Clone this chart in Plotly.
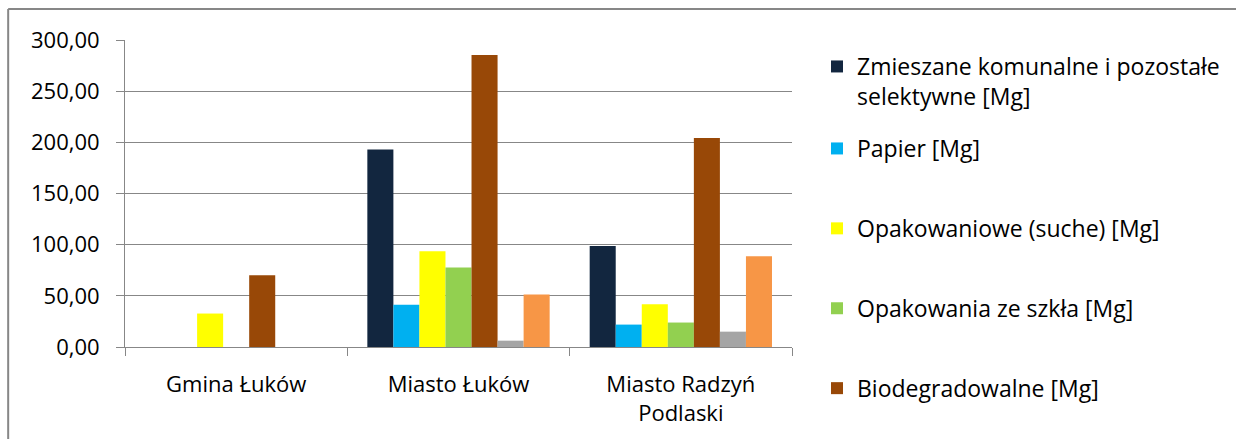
import plotly.graph_objects as go

categories = ["Gmina Łuków", "Miasto Łuków", "Miasto Radzyń<br>Podlaski"]

series_names = [
    "Zmieszane komunalne i pozostałe<br>selektywne [Mg]",
    "Papier [Mg]",
    "Opakowaniowe (suche) [Mg]",
    "Opakowania ze szkła [Mg]",
    "Biodegradowalne [Mg]",
    "Seria 6",
    "Seria 7",
]
zmieszane = [0, 193.1, 98.7]
papier = [0, 41.2, 21.9]
opakowaniowe = [32.7, 93.5, 41.8]
szklo = [0, 77.8, 23.9]
biodegradowalne = [70.0, 285.3, 204.2]
seria6 = [0, 6.2, 15.0]
seria7 = [0, 51.3, 88.6]

series_values = [zmieszane, papier, opakowaniowe, szklo, biodegradowalne, seria6, seria7]
colors = ["#12263F", "#00B0F0", "#FFFF00", "#92D050", "#984807", "#A5A5A5", "#F79646"]

y_ticks = [0, 50, 100, 150, 200, 250, 300]

FONT = "Open Sans"
FS = 22
FS_LEG = 23
GRID = "#878787"

fig = go.Figure()
for i, (name, vals, col) in enumerate(zip(series_names, series_values, colors)):
    fig.add_trace(go.Bar(
        x=categories, y=vals, name=name,
        marker=dict(color=col, line=dict(width=0)),
        legend="legend" if i == 0 else "legend2",
        legendgroup=f"g{i}",
        showlegend=i < 5,
    ))

L, R_EDGE, T, B_EDGE = 125, 793, 40, 347
W, H = 1236, 439
pw = R_EDGE - L
ph = B_EDGE - T

def px_x(p):
    return (p - L) / pw

def px_y(p):
    return (B_EDGE - p) / ph

fig.update_layout(
    width=W, height=H,
    margin=dict(l=L, r=W - R_EDGE, t=T, b=H - B_EDGE, pad=0),
    paper_bgcolor="white", plot_bgcolor="white",
    font=dict(family=FONT, size=FS, color="#000000"),
    separators=", ",
    barmode="group", bargap=0.18, bargroupgap=0,
    showlegend=True,
    legend=dict(
        x=px_x(817), y=px_y(45), xanchor="left", yanchor="top",
        font=dict(family=FONT, size=FS_LEG, color="#000000"),
        bgcolor="rgba(0,0,0,0)", borderwidth=0,
        valign="top", itemclick=False,
    ),
    legend2=dict(
        x=px_x(817), y=px_y(127), xanchor="left", yanchor="top",
        font=dict(family=FONT, size=FS_LEG, color="#000000"),
        bgcolor="rgba(0,0,0,0)", borderwidth=0,
        tracegroupgap=47, itemclick=False,
    ),
    xaxis=dict(
        showgrid=False, showline=True, linecolor=GRID, linewidth=1,
        ticks="outside", tickson="boundaries", ticklen=8, tickcolor=GRID,
        tickfont=dict(family=FONT, size=FS, color="#000000"),
        ticklabelstandoff=18,
    ),
    yaxis=dict(
        range=[0, 300], tickvals=y_ticks, tickformat=".2f",
        showgrid=True, gridcolor=GRID, gridwidth=1,
        showline=True, linecolor=GRID, linewidth=1,
        ticks="outside", ticklen=8, tickcolor=GRID,
        tickfont=dict(family=FONT, size=FS, color="#000000"),
        ticklabelstandoff=12, zeroline=False,
    ),
    shapes=[
        dict(type="line", xref="paper", yref="paper",
             x0=px_x(8), x1=px_x(1245), y0=px_y(9), y1=px_y(9),
             line=dict(color=GRID, width=2)),
        dict(type="line", xref="paper", yref="paper",
             x0=px_x(8), x1=px_x(8), y0=px_y(9), y1=px_y(460),
             line=dict(color=GRID, width=2)),
    ],
)

fig.write_html("out.html", config={"displayModeBar": False},
               post_script="document.body.style.margin='0';")
